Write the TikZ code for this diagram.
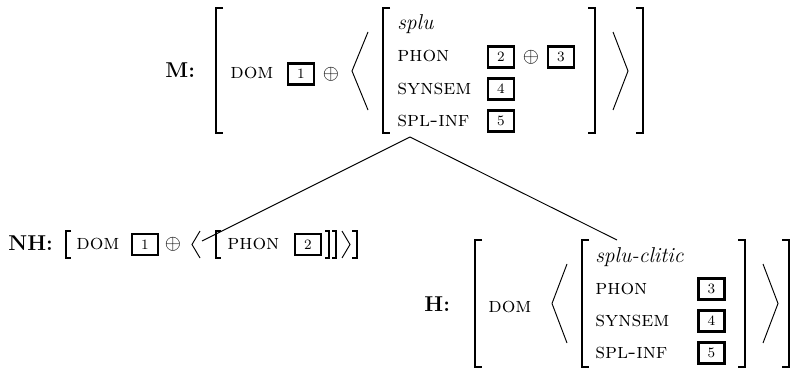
\documentclass[tikz,border=0pt]{standalone}
\usepackage{amsmath}
\usepackage{amssymb}
\usepackage{tikz}

\begin{document}
\begin{tikzpicture}[x=0.5263pt,y=-0.5263pt,
	tag/.style={draw,line width=1.3pt,minimum width=13.5pt,minimum height=11.2pt,inner sep=0pt,font=\fontsize{7.5}{8}\selectfont},
	lbl/.style={anchor=base west,inner sep=0pt},
	brk/.style={line width=0.7pt},
	ang/.style={line width=0.5pt},
	edge/.style={line width=0.5pt}]
	\fontsize{11.3}{13.5}\selectfont

	\useasboundingbox (0,0) rectangle (791,369);

	% mother
	\node[lbl,font=\bfseries] (Mlab) at (165,78) {M:};
	\draw[brk] (223,8) -| (216,133) -- ++(7,0);
	\node[lbl] (Mdom) at (230,79) {\textsc{dom}};
	\node[tag] (Mt1) at (301,74) {1};
	\node (Mplus) at (331,74) {$\oplus$};
	\draw[ang] (368,32) -- (352,71) -- (368,110);
	\draw[brk] (390,8) -| (383,133) -- ++(7,0);
	\node[lbl] (Mtype) at (397,30) {\textit{splu}};
	\node[lbl] (Mphon) at (397,62) {\textsc{phon}};
	\node[lbl] (Msyn) at (397,94) {\textsc{synsem}};
	\node[lbl] (Mspl) at (397,126) {\textsc{spl-inf}};
	\node[tag] (Mt2) at (501,57) {2};
	\node (Mplus2) at (531,57) {$\oplus$};
	\node[tag] (Mt3) at (561,57) {3};
	\node[tag] (Mt4) at (501,89) {4};
	\node[tag] (Mt5) at (501,121) {5};
	\draw[brk] (588,8) -| (595,133) -- ++(-7,0);
	\draw[ang] (613,32) -- (628,71) -- (613,110);
	\draw[brk] (636,8) -| (643,133) -- ++(-7,0);
	\coordinate (Mbot) at (410,137);

	% non-head
	\node[lbl,font=\bfseries] (NHlab) at (8,250) {NH:};
	\draw[brk] (71,231) -| (66,258) -- ++(5,0);
	\node[lbl] (NHdom) at (76,249.5) {\textsc{dom}};
	\node[tag] (NHt1) at (145,244.5) {1};
	\node (NHplus) at (173,244.5) {$\oplus$};
	\draw[ang] (200,231) -- (192,244.5) -- (200,258);
	\coordinate (NHtop) at (202,241);
	\draw[brk] (221,231) -| (216,258) -- ++(5,0);
	\node[lbl] (NHphon) at (227,249.5) {\textsc{phon}};
	\node[tag] (NHt2) at (308,244.5) {2};
	\draw[brk] (325,231) -| (329,258) -- ++(-4,0);
	\draw[brk] (332,231) -| (336,258) -- ++(-4,0);
	\draw[ang] (342,231) -- (350,244.5) -- (342,258);
	\draw[brk] (352,231) -| (357,258) -- ++(-5,0);

	% head
	\node[lbl,font=\bfseries] (Hlab) at (424,311) {H:};
	\draw[brk] (482,240) -| (475,367) -- ++(7,0);
	\node[lbl] (Hdom) at (488,312) {\textsc{dom}};
	\draw[ang] (567,264) -- (552,303.5) -- (567,343);
	\draw[brk] (589,240) -| (582,367) -- ++(7,0);
	\coordinate (Htop) at (617,240);
	\node[lbl] (Htype) at (595,262) {\textit{splu-clitic}};
	\node[lbl] (Hphon) at (595,294) {\textsc{phon}};
	\node[lbl] (Hsyn) at (595,326) {\textsc{synsem}};
	\node[lbl] (Hspl) at (595,358) {\textsc{spl-inf}};
	\node[tag] (Ht3) at (711.5,289) {3};
	\node[tag] (Ht4) at (711.5,321) {4};
	\node[tag] (Ht5) at (711.5,353) {5};
	\draw[brk] (738,240) -| (745,367) -- ++(-7,0);
	\draw[ang] (763,264) -- (778,303.5) -- (763,343);
	\draw[brk] (782,240) -| (789,367) -- ++(-7,0);

	\draw[edge] (Mbot) -- (NHtop);
	\draw[edge] (Mbot) -- (Htop);

\end{tikzpicture}
\end{document}
